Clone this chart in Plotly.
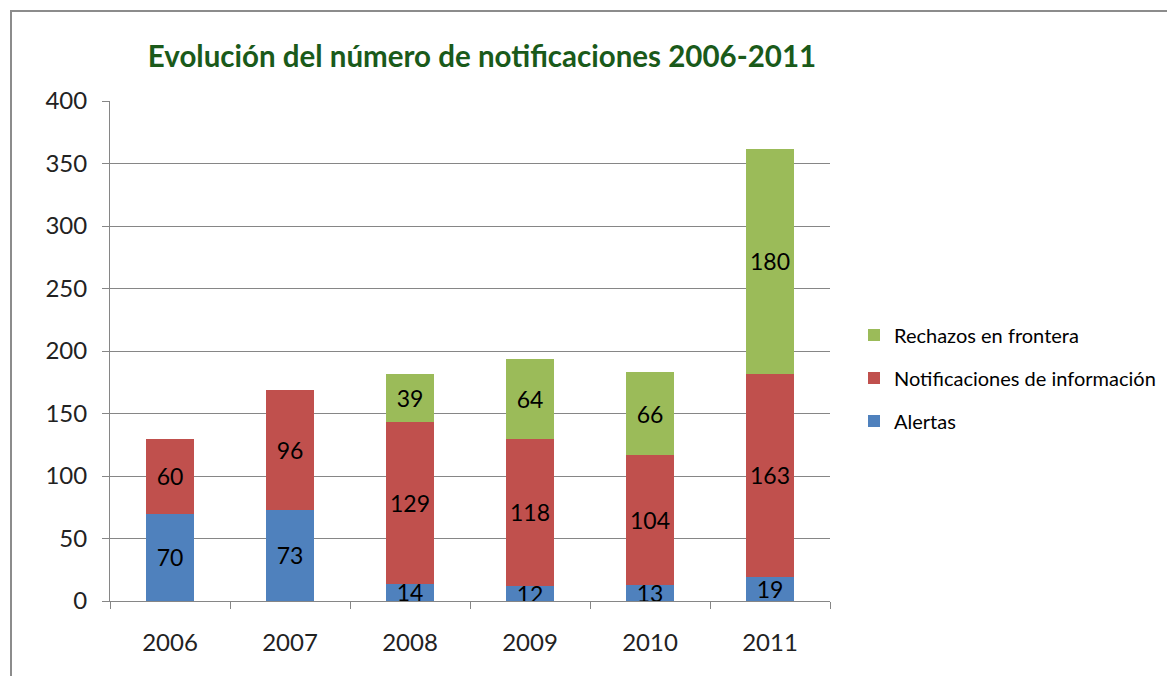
import plotly.graph_objects as go

years = ["2006", "2007", "2008", "2009", "2010", "2011"]
alertas = [70, 73, 14, 12, 13, 19]
notificaciones = [60, 96, 129, 118, 104, 163]
rechazos = [None, None, 39, 64, 66, 180]

names = ["Alertas", "Notificaciones de información", "Rechazos en frontera"]
colors = ["#4F81BD", "#C0504D", "#9BBB59"]
series = [alertas, notificaciones, rechazos]

FONT = "Lato"
OFF = 8  # page body offset
L, T, PW, PH = 110 - OFF, 101 - OFF, 720, 500
fig = go.Figure()
for i, (nm, col, vals) in enumerate(zip(names, colors, series)):
    fig.add_trace(go.Bar(
        x=years, y=vals, name=nm, marker=dict(color=col, line=dict(width=0)),
        text=[("" if v is None else str(v)) for v in vals],
        textposition="inside", insidetextanchor="middle", textangle=0,
        textfont=dict(family=FONT, size=23, color="#000000"),
        legendgroup=nm, legendrank=3 - i,
    ))

fig.update_layout(
    barmode="stack", bargap=0.6,
    width=1175, height=676,
    margin=dict(l=L, r=1175 - L - PW, t=T, b=676 - T - PH),
    paper_bgcolor="white", plot_bgcolor="white",
    uniformtext=dict(minsize=23, mode="show"),
    title=dict(text="Evolución del número de notificaciones 2006-2011",
               font=dict(family=FONT, size=29.5, color="#1A5A1A", weight="bold"),
               x=(482 - 110) / 720, xref="paper", xanchor="center",
               y=1 - (57 - OFF) / 676, yref="container", yanchor="middle"),
    legend=dict(x=(854 - 110) / 720, xanchor="left", y=(601 - 378) / 500, yanchor="middle",
                traceorder="grouped", tracegroupgap=14,
                font=dict(family=FONT, size=20, color="#000000"),
                itemwidth=30, bgcolor="rgba(0,0,0,0)"),
    showlegend=True,
)
fig.update_xaxes(showline=True, linecolor="#868686", linewidth=1,
                 ticks="outside", tickson="boundaries", ticklen=7, tickcolor="#868686",
                 tickfont=dict(family=FONT, size=24, color="#222222"),
                 ticklabelstandoff=20, showgrid=False)
fig.update_yaxes(range=[0, 400], dtick=50, showline=True, linecolor="#868686", linewidth=1,
                 ticks="outside", ticklen=7, tickcolor="#868686",
                 gridcolor="#868686", gridwidth=1, zeroline=False,
                 tickfont=dict(family=FONT, size=24, color="#222222"),
                 ticklabelstandoff=10)
# outer chart border
fig.add_shape(type="rect", xref="paper", yref="paper",
              x0=(11 - 110) / 720, x1=(1200 - 110) / 720,
              y0=-0.3, y1=(601 - 11) / 500,
              line=dict(color="#8C8C8C", width=2), layer="below")
fig.write_html("out.html")
